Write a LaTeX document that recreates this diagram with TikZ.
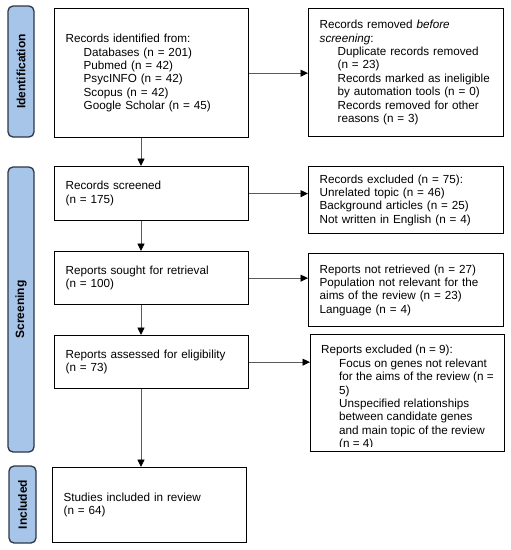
\documentclass[tikz,border=0pt]{standalone}
\usepackage{fontspec}
\setmainfont{Liberation Sans}
\usetikzlibrary{arrows.meta}
\definecolor{phasefill}{RGB}{166,197,233}
\definecolor{phaseline}{RGB}{45,55,70}
\definecolor{arrowgray}{RGB}{90,90,90}
\newcommand{\mainfnt}{\fontsize{11.7pt}{13.45pt}\selectfont}
\newcommand{\phasefnt}{\fontsize{12pt}{14pt}\selectfont\bfseries}
\newcommand{\ind}{\hspace*{18pt}}
\begin{document}
\begin{tikzpicture}[x=1pt,y=-1pt,
  box/.style={draw=black, line width=1.3pt, fill=white, anchor=north west,
    inner xsep=11pt, inner ysep=0pt, align=left, font=\mainfnt},
  phase/.style={draw=phaseline, fill=phasefill, line width=1.3pt,
    rounded corners=5pt, rotate=90, inner sep=0pt, font=\phasefnt},
  link/.style={draw=arrowgray, line width=0.9pt,
    -{Triangle[length=7.5pt,width=7pt,color=black]}}]
\useasboundingbox (0,0) rectangle (511,550);

% phase bars
\node[phase, minimum width=131pt, minimum height=26pt] (pid) at (21,71.5) {Identification};
\node[phase, minimum width=285pt, minimum height=26pt] (psc) at (21,309.5) {Screening};
\node[phase, minimum width=77pt, minimum height=27pt] (pin) at (22.5,504.5) {Included};

% left boxes
\node[box, text width=172pt, minimum height=129pt] (b1) at (54,8)
  {Records identified from:\\
   \ind Databases (n = 201)\\
   \ind Pubmed (n = 42)\\
   \ind PsycINFO (n = 42)\\
   \ind Scopus (n = 42)\\
   \ind Google Scholar (n = 45)};
\node[box, text width=172pt, minimum height=54pt] (b2) at (54,166)
  {Records screened\\(n = 175)};
\node[box, text width=172pt, minimum height=53pt] (b3) at (54,251)
  {Reports sought for retrieval\\(n = 100)};
\node[box, text width=172pt, minimum height=53pt] (b4) at (54,335)
  {Reports assessed for eligibility\\(n = 73)};
\node[box, text width=172pt, minimum height=75pt] (b5) at (52,467)
  {Studies included in review\\(n = 64)};

% right boxes
\node[box, text width=173pt, minimum height=128pt] (r1) at (308,8)
  {Records removed \textit{before}\\
   \textit{screening}:\\
   \ind Duplicate records removed\\
   \ind (n = 23)\\
   \ind Records marked as ineligible\\
   \ind by automation tools (n = 0)\\
   \ind Records removed for other\\
   \ind reasons (n = 3)};
\node[box, text width=173pt, minimum height=67pt] (r2) at (308,166)
  {Records excluded (n = 75):\\
   Unrelated topic (n = 46)\\
   Background articles (n = 25)\\
   Not written in English (n = 4)};
\node[box, text width=173pt, minimum height=73pt] (r3) at (308,253)
  {Reports not retrieved (n = 27)\\
   Population not relevant for the\\
   aims of the review (n = 23)\\
   Language (n = 4)};
\node[box, text width=172pt, minimum height=117pt] (r4) at (310,334) {};
\begin{scope}
  \clip (311,335) rectangle (503,446);
  \node[anchor=north west, inner sep=0pt, align=left, font=\mainfnt] (r4t) at (321,345)
    {Reports excluded (n = 9):\\
     \ind Focus on genes not relevant\\
     \ind for the aims of the review (n =\\
     \ind 5)\\
     \ind Unspecified relationships\\
     \ind between candidate genes\\
     \ind and main topic of the review\\
     \ind (n = 4)};
\end{scope}

% connectors
\coordinate (vx) at (141,0);
\draw[link] (b1.south -| vx) -- (b2.north -| vx);
\draw[link] (b2.south -| vx) -- (b3.north -| vx);
\draw[link] (b3.south -| vx) -- (b4.north -| vx);
\draw[link] (b4.south -| vx) -- (b5.north -| vx);
\draw[link] (b1.east) -- (b1.east -| r1.west);
\draw[link] (b2.east) -- (b2.east -| r2.west);
\draw[link] (b3.east) -- (b3.east -| r3.west);
\draw[link] (b4.east) -- (b4.east -| r4.west);
\end{tikzpicture}
\end{document}
